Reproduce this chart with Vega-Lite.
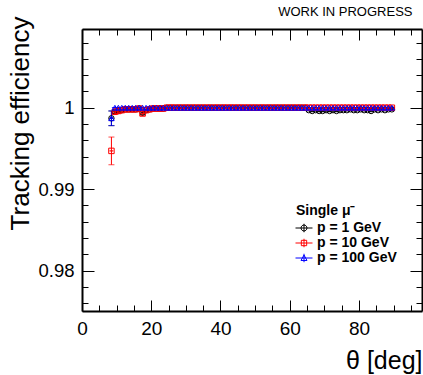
{
  "$schema": "https://vega.github.io/schema/vega-lite/v6.json",
  "autosize": {"type": "none"},
  "padding": {"left": 82, "top": 29, "right": 1, "bottom": 64},
  "width": 340,
  "height": 282,
  "background": "white",
  "title": {"text": "WORK IN PROGRESS", "anchor": "end", "fontSize": 13, "fontWeight": "normal", "font": "Liberation Sans", "color": "black", "offset": -3, "dx": -10},
  "config": {
    "font": "Liberation Sans",
    "view": {"stroke": null},
    "axis": {"grid": false, "domain": false, "labelFont": "Liberation Sans", "labelColor": "black", "titleFont": "Liberation Sans", "titleColor": "black", "titleFontWeight": "normal", "tickColor": "black", "tickWidth": 1, "labelOverlap": false, "labelFlush": false, "domainColor": "black", "domainWidth": 2}
  },
  "resolve": {"axis": {"x": "independent", "y": "independent"}},
  "data": {"values": [
    {"s":"p = 1 GeV","t":8.5,"e":0.9987,"err":0.0009},
    {"s":"p = 1 GeV","t":9.5,"e":0.9995,"err":0.0002},
    {"s":"p = 1 GeV","t":10.5,"e":0.9996,"err":0.0002},
    {"s":"p = 1 GeV","t":11.5,"e":0.9997,"err":0.0001},
    {"s":"p = 1 GeV","t":12.5,"e":0.9998,"err":0.0001},
    {"s":"p = 1 GeV","t":13.5,"e":0.9998,"err":0.0001},
    {"s":"p = 1 GeV","t":14.5,"e":0.9998,"err":0.0001},
    {"s":"p = 1 GeV","t":15.5,"e":0.9998,"err":0.0001},
    {"s":"p = 1 GeV","t":16.5,"e":0.9999,"err":0.0001},
    {"s":"p = 1 GeV","t":17.5,"e":0.9994,"err":0.0002},
    {"s":"p = 1 GeV","t":18.5,"e":0.9997,"err":0.0001},
    {"s":"p = 1 GeV","t":19.5,"e":0.9998,"err":0.0001},
    {"s":"p = 1 GeV","t":20.5,"e":0.9999,"err":0.0001},
    {"s":"p = 1 GeV","t":21.5,"e":0.9999,"err":0.0001},
    {"s":"p = 1 GeV","t":22.5,"e":0.9999,"err":0.0001},
    {"s":"p = 1 GeV","t":23.5,"e":0.9999,"err":0.0001},
    {"s":"p = 1 GeV","t":24.5,"e":1.0,"err":0},
    {"s":"p = 1 GeV","t":25.5,"e":1.0,"err":0},
    {"s":"p = 1 GeV","t":26.5,"e":1.0,"err":0},
    {"s":"p = 1 GeV","t":27.5,"e":1.0,"err":0},
    {"s":"p = 1 GeV","t":28.5,"e":1.0,"err":0},
    {"s":"p = 1 GeV","t":29.5,"e":1.0,"err":0},
    {"s":"p = 1 GeV","t":30.5,"e":1.0,"err":0},
    {"s":"p = 1 GeV","t":31.5,"e":1.0,"err":0},
    {"s":"p = 1 GeV","t":32.5,"e":1.0,"err":0},
    {"s":"p = 1 GeV","t":33.5,"e":1.0,"err":0},
    {"s":"p = 1 GeV","t":34.5,"e":1.0,"err":0},
    {"s":"p = 1 GeV","t":35.5,"e":1.0,"err":0},
    {"s":"p = 1 GeV","t":36.5,"e":1.0,"err":0},
    {"s":"p = 1 GeV","t":37.5,"e":1.0,"err":0},
    {"s":"p = 1 GeV","t":38.5,"e":1.0,"err":0},
    {"s":"p = 1 GeV","t":39.5,"e":1.0,"err":0},
    {"s":"p = 1 GeV","t":40.5,"e":1.0,"err":0},
    {"s":"p = 1 GeV","t":41.5,"e":1.0,"err":0},
    {"s":"p = 1 GeV","t":42.5,"e":1.0,"err":0},
    {"s":"p = 1 GeV","t":43.5,"e":1.0,"err":0},
    {"s":"p = 1 GeV","t":44.5,"e":1.0,"err":0},
    {"s":"p = 1 GeV","t":45.5,"e":1.0,"err":0},
    {"s":"p = 1 GeV","t":46.5,"e":1.0,"err":0},
    {"s":"p = 1 GeV","t":47.5,"e":1.0,"err":0},
    {"s":"p = 1 GeV","t":48.5,"e":1.0,"err":0},
    {"s":"p = 1 GeV","t":49.5,"e":1.0,"err":0},
    {"s":"p = 1 GeV","t":50.5,"e":1.0,"err":0},
    {"s":"p = 1 GeV","t":51.5,"e":1.0,"err":0},
    {"s":"p = 1 GeV","t":52.5,"e":1.0,"err":0},
    {"s":"p = 1 GeV","t":53.5,"e":1.0,"err":0},
    {"s":"p = 1 GeV","t":54.5,"e":1.0,"err":0},
    {"s":"p = 1 GeV","t":55.5,"e":1.0,"err":0},
    {"s":"p = 1 GeV","t":56.5,"e":1.0,"err":0},
    {"s":"p = 1 GeV","t":57.5,"e":1.0,"err":0},
    {"s":"p = 1 GeV","t":58.5,"e":1.0,"err":0},
    {"s":"p = 1 GeV","t":59.5,"e":1.0,"err":0},
    {"s":"p = 1 GeV","t":60.5,"e":1.0,"err":0},
    {"s":"p = 1 GeV","t":61.5,"e":1.0,"err":0},
    {"s":"p = 1 GeV","t":62.5,"e":1.0,"err":0},
    {"s":"p = 1 GeV","t":63.5,"e":1.0,"err":0},
    {"s":"p = 1 GeV","t":64.5,"e":1.0,"err":0},
    {"s":"p = 1 GeV","t":65.5,"e":0.9997,"err":0.0001},
    {"s":"p = 1 GeV","t":66.5,"e":0.9996,"err":0.0001},
    {"s":"p = 1 GeV","t":67.5,"e":0.9997,"err":0.0001},
    {"s":"p = 1 GeV","t":68.5,"e":0.9996,"err":0.0001},
    {"s":"p = 1 GeV","t":69.5,"e":0.9996,"err":0.0001},
    {"s":"p = 1 GeV","t":70.5,"e":0.9997,"err":0.0001},
    {"s":"p = 1 GeV","t":71.5,"e":0.9996,"err":0.0001},
    {"s":"p = 1 GeV","t":72.5,"e":0.9997,"err":0.0001},
    {"s":"p = 1 GeV","t":73.5,"e":0.9996,"err":0.0001},
    {"s":"p = 1 GeV","t":74.5,"e":0.9997,"err":0.0001},
    {"s":"p = 1 GeV","t":75.5,"e":0.9997,"err":0.0001},
    {"s":"p = 1 GeV","t":76.5,"e":0.9997,"err":0.0001},
    {"s":"p = 1 GeV","t":77.5,"e":0.9998,"err":0.0001},
    {"s":"p = 1 GeV","t":78.5,"e":0.9997,"err":0.0001},
    {"s":"p = 1 GeV","t":79.5,"e":0.9997,"err":0.0001},
    {"s":"p = 1 GeV","t":80.5,"e":0.9998,"err":0.0001},
    {"s":"p = 1 GeV","t":81.5,"e":0.9997,"err":0.0001},
    {"s":"p = 1 GeV","t":82.5,"e":0.9997,"err":0.0001},
    {"s":"p = 1 GeV","t":83.5,"e":0.9996,"err":0.0001},
    {"s":"p = 1 GeV","t":84.5,"e":0.9998,"err":0.0001},
    {"s":"p = 1 GeV","t":85.5,"e":0.9997,"err":0.0001},
    {"s":"p = 1 GeV","t":86.5,"e":0.9998,"err":0.0001},
    {"s":"p = 1 GeV","t":87.5,"e":0.9997,"err":0.0001},
    {"s":"p = 1 GeV","t":88.5,"e":0.9998,"err":0.0001},
    {"s":"p = 1 GeV","t":89.5,"e":0.9998,"err":0.0001},
    {"s":"p = 10 GeV","t":8.5,"e":0.9947,"err":0.0017},
    {"s":"p = 10 GeV","t":9.5,"e":0.9995,"err":0.0002},
    {"s":"p = 10 GeV","t":10.5,"e":0.9996,"err":0.0002},
    {"s":"p = 10 GeV","t":11.5,"e":0.9997,"err":0.0001},
    {"s":"p = 10 GeV","t":12.5,"e":0.9998,"err":0.0001},
    {"s":"p = 10 GeV","t":13.5,"e":0.9998,"err":0.0001},
    {"s":"p = 10 GeV","t":14.5,"e":0.9998,"err":0.0001},
    {"s":"p = 10 GeV","t":15.5,"e":0.9998,"err":0.0001},
    {"s":"p = 10 GeV","t":16.5,"e":0.9999,"err":0.0001},
    {"s":"p = 10 GeV","t":17.5,"e":0.9993,"err":0.0003},
    {"s":"p = 10 GeV","t":18.5,"e":0.9997,"err":0.0001},
    {"s":"p = 10 GeV","t":19.5,"e":0.9998,"err":0.0001},
    {"s":"p = 10 GeV","t":20.5,"e":0.9999,"err":0.0001},
    {"s":"p = 10 GeV","t":21.5,"e":0.9999,"err":0.0001},
    {"s":"p = 10 GeV","t":22.5,"e":0.9999,"err":0.0001},
    {"s":"p = 10 GeV","t":23.5,"e":0.9999,"err":0.0001},
    {"s":"p = 10 GeV","t":24.5,"e":1.0,"err":0},
    {"s":"p = 10 GeV","t":25.5,"e":1.0,"err":0},
    {"s":"p = 10 GeV","t":26.5,"e":1.0,"err":0},
    {"s":"p = 10 GeV","t":27.5,"e":1.0,"err":0},
    {"s":"p = 10 GeV","t":28.5,"e":1.0,"err":0},
    {"s":"p = 10 GeV","t":29.5,"e":1.0,"err":0},
    {"s":"p = 10 GeV","t":30.5,"e":1.0,"err":0},
    {"s":"p = 10 GeV","t":31.5,"e":1.0,"err":0},
    {"s":"p = 10 GeV","t":32.5,"e":1.0,"err":0},
    {"s":"p = 10 GeV","t":33.5,"e":1.0,"err":0},
    {"s":"p = 10 GeV","t":34.5,"e":1.0,"err":0},
    {"s":"p = 10 GeV","t":35.5,"e":1.0,"err":0},
    {"s":"p = 10 GeV","t":36.5,"e":1.0,"err":0},
    {"s":"p = 10 GeV","t":37.5,"e":1.0,"err":0},
    {"s":"p = 10 GeV","t":38.5,"e":1.0,"err":0},
    {"s":"p = 10 GeV","t":39.5,"e":1.0,"err":0},
    {"s":"p = 10 GeV","t":40.5,"e":1.0,"err":0},
    {"s":"p = 10 GeV","t":41.5,"e":1.0,"err":0},
    {"s":"p = 10 GeV","t":42.5,"e":1.0,"err":0},
    {"s":"p = 10 GeV","t":43.5,"e":1.0,"err":0},
    {"s":"p = 10 GeV","t":44.5,"e":1.0,"err":0},
    {"s":"p = 10 GeV","t":45.5,"e":1.0,"err":0},
    {"s":"p = 10 GeV","t":46.5,"e":1.0,"err":0},
    {"s":"p = 10 GeV","t":47.5,"e":1.0,"err":0},
    {"s":"p = 10 GeV","t":48.5,"e":1.0,"err":0},
    {"s":"p = 10 GeV","t":49.5,"e":1.0,"err":0},
    {"s":"p = 10 GeV","t":50.5,"e":1.0,"err":0},
    {"s":"p = 10 GeV","t":51.5,"e":1.0,"err":0},
    {"s":"p = 10 GeV","t":52.5,"e":1.0,"err":0},
    {"s":"p = 10 GeV","t":53.5,"e":1.0,"err":0},
    {"s":"p = 10 GeV","t":54.5,"e":1.0,"err":0},
    {"s":"p = 10 GeV","t":55.5,"e":1.0,"err":0},
    {"s":"p = 10 GeV","t":56.5,"e":1.0,"err":0},
    {"s":"p = 10 GeV","t":57.5,"e":1.0,"err":0},
    {"s":"p = 10 GeV","t":58.5,"e":1.0,"err":0},
    {"s":"p = 10 GeV","t":59.5,"e":1.0,"err":0},
    {"s":"p = 10 GeV","t":60.5,"e":1.0,"err":0},
    {"s":"p = 10 GeV","t":61.5,"e":1.0,"err":0},
    {"s":"p = 10 GeV","t":62.5,"e":1.0,"err":0},
    {"s":"p = 10 GeV","t":63.5,"e":1.0,"err":0},
    {"s":"p = 10 GeV","t":64.5,"e":1.0,"err":0},
    {"s":"p = 10 GeV","t":65.5,"e":1.0,"err":0},
    {"s":"p = 10 GeV","t":66.5,"e":1.0,"err":0},
    {"s":"p = 10 GeV","t":67.5,"e":1.0,"err":0},
    {"s":"p = 10 GeV","t":68.5,"e":1.0,"err":0},
    {"s":"p = 10 GeV","t":69.5,"e":1.0,"err":0},
    {"s":"p = 10 GeV","t":70.5,"e":1.0,"err":0},
    {"s":"p = 10 GeV","t":71.5,"e":1.0,"err":0},
    {"s":"p = 10 GeV","t":72.5,"e":1.0,"err":0},
    {"s":"p = 10 GeV","t":73.5,"e":1.0,"err":0},
    {"s":"p = 10 GeV","t":74.5,"e":1.0,"err":0},
    {"s":"p = 10 GeV","t":75.5,"e":1.0,"err":0},
    {"s":"p = 10 GeV","t":76.5,"e":1.0,"err":0},
    {"s":"p = 10 GeV","t":77.5,"e":1.0,"err":0},
    {"s":"p = 10 GeV","t":78.5,"e":1.0,"err":0},
    {"s":"p = 10 GeV","t":79.5,"e":1.0,"err":0},
    {"s":"p = 10 GeV","t":80.5,"e":1.0,"err":0},
    {"s":"p = 10 GeV","t":81.5,"e":1.0,"err":0},
    {"s":"p = 10 GeV","t":82.5,"e":1.0,"err":0},
    {"s":"p = 10 GeV","t":83.5,"e":1.0,"err":0},
    {"s":"p = 10 GeV","t":84.5,"e":1.0,"err":0},
    {"s":"p = 10 GeV","t":85.5,"e":1.0,"err":0},
    {"s":"p = 10 GeV","t":86.5,"e":1.0,"err":0},
    {"s":"p = 10 GeV","t":87.5,"e":1.0,"err":0},
    {"s":"p = 10 GeV","t":88.5,"e":1.0,"err":0},
    {"s":"p = 10 GeV","t":89.5,"e":1.0,"err":0},
    {"s":"p = 100 GeV","t":8.5,"e":0.9987,"err":0.0009},
    {"s":"p = 100 GeV","t":9.5,"e":1.0,"err":0},
    {"s":"p = 100 GeV","t":10.5,"e":1.0,"err":0},
    {"s":"p = 100 GeV","t":11.5,"e":1.0,"err":0},
    {"s":"p = 100 GeV","t":12.5,"e":1.0,"err":0},
    {"s":"p = 100 GeV","t":13.5,"e":1.0,"err":0},
    {"s":"p = 100 GeV","t":14.5,"e":1.0,"err":0},
    {"s":"p = 100 GeV","t":15.5,"e":1.0,"err":0},
    {"s":"p = 100 GeV","t":16.5,"e":1.0,"err":0},
    {"s":"p = 100 GeV","t":17.5,"e":1.0,"err":0},
    {"s":"p = 100 GeV","t":18.5,"e":1.0,"err":0},
    {"s":"p = 100 GeV","t":19.5,"e":1.0,"err":0},
    {"s":"p = 100 GeV","t":20.5,"e":1.0,"err":0},
    {"s":"p = 100 GeV","t":21.5,"e":1.0,"err":0},
    {"s":"p = 100 GeV","t":22.5,"e":1.0,"err":0},
    {"s":"p = 100 GeV","t":23.5,"e":1.0,"err":0},
    {"s":"p = 100 GeV","t":24.5,"e":1.0,"err":0},
    {"s":"p = 100 GeV","t":25.5,"e":1.0,"err":0},
    {"s":"p = 100 GeV","t":26.5,"e":1.0,"err":0},
    {"s":"p = 100 GeV","t":27.5,"e":1.0,"err":0},
    {"s":"p = 100 GeV","t":28.5,"e":1.0,"err":0},
    {"s":"p = 100 GeV","t":29.5,"e":1.0,"err":0},
    {"s":"p = 100 GeV","t":30.5,"e":1.0,"err":0},
    {"s":"p = 100 GeV","t":31.5,"e":1.0,"err":0},
    {"s":"p = 100 GeV","t":32.5,"e":1.0,"err":0},
    {"s":"p = 100 GeV","t":33.5,"e":1.0,"err":0},
    {"s":"p = 100 GeV","t":34.5,"e":1.0,"err":0},
    {"s":"p = 100 GeV","t":35.5,"e":1.0,"err":0},
    {"s":"p = 100 GeV","t":36.5,"e":1.0,"err":0},
    {"s":"p = 100 GeV","t":37.5,"e":1.0,"err":0},
    {"s":"p = 100 GeV","t":38.5,"e":1.0,"err":0},
    {"s":"p = 100 GeV","t":39.5,"e":1.0,"err":0},
    {"s":"p = 100 GeV","t":40.5,"e":1.0,"err":0},
    {"s":"p = 100 GeV","t":41.5,"e":1.0,"err":0},
    {"s":"p = 100 GeV","t":42.5,"e":1.0,"err":0},
    {"s":"p = 100 GeV","t":43.5,"e":1.0,"err":0},
    {"s":"p = 100 GeV","t":44.5,"e":1.0,"err":0},
    {"s":"p = 100 GeV","t":45.5,"e":1.0,"err":0},
    {"s":"p = 100 GeV","t":46.5,"e":1.0,"err":0},
    {"s":"p = 100 GeV","t":47.5,"e":1.0,"err":0},
    {"s":"p = 100 GeV","t":48.5,"e":1.0,"err":0},
    {"s":"p = 100 GeV","t":49.5,"e":1.0,"err":0},
    {"s":"p = 100 GeV","t":50.5,"e":1.0,"err":0},
    {"s":"p = 100 GeV","t":51.5,"e":1.0,"err":0},
    {"s":"p = 100 GeV","t":52.5,"e":1.0,"err":0},
    {"s":"p = 100 GeV","t":53.5,"e":1.0,"err":0},
    {"s":"p = 100 GeV","t":54.5,"e":1.0,"err":0},
    {"s":"p = 100 GeV","t":55.5,"e":1.0,"err":0},
    {"s":"p = 100 GeV","t":56.5,"e":1.0,"err":0},
    {"s":"p = 100 GeV","t":57.5,"e":1.0,"err":0},
    {"s":"p = 100 GeV","t":58.5,"e":1.0,"err":0},
    {"s":"p = 100 GeV","t":59.5,"e":1.0,"err":0},
    {"s":"p = 100 GeV","t":60.5,"e":1.0,"err":0},
    {"s":"p = 100 GeV","t":61.5,"e":1.0,"err":0},
    {"s":"p = 100 GeV","t":62.5,"e":1.0,"err":0},
    {"s":"p = 100 GeV","t":63.5,"e":1.0,"err":0},
    {"s":"p = 100 GeV","t":64.5,"e":1.0,"err":0},
    {"s":"p = 100 GeV","t":65.5,"e":1.0,"err":0},
    {"s":"p = 100 GeV","t":66.5,"e":1.0,"err":0},
    {"s":"p = 100 GeV","t":67.5,"e":1.0,"err":0},
    {"s":"p = 100 GeV","t":68.5,"e":1.0,"err":0},
    {"s":"p = 100 GeV","t":69.5,"e":1.0,"err":0},
    {"s":"p = 100 GeV","t":70.5,"e":1.0,"err":0},
    {"s":"p = 100 GeV","t":71.5,"e":1.0,"err":0},
    {"s":"p = 100 GeV","t":72.5,"e":1.0,"err":0},
    {"s":"p = 100 GeV","t":73.5,"e":1.0,"err":0},
    {"s":"p = 100 GeV","t":74.5,"e":1.0,"err":0},
    {"s":"p = 100 GeV","t":75.5,"e":1.0,"err":0},
    {"s":"p = 100 GeV","t":76.5,"e":1.0,"err":0},
    {"s":"p = 100 GeV","t":77.5,"e":1.0,"err":0},
    {"s":"p = 100 GeV","t":78.5,"e":1.0,"err":0},
    {"s":"p = 100 GeV","t":79.5,"e":1.0,"err":0},
    {"s":"p = 100 GeV","t":80.5,"e":1.0,"err":0},
    {"s":"p = 100 GeV","t":81.5,"e":1.0,"err":0},
    {"s":"p = 100 GeV","t":82.5,"e":1.0,"err":0},
    {"s":"p = 100 GeV","t":83.5,"e":1.0,"err":0},
    {"s":"p = 100 GeV","t":84.5,"e":1.0,"err":0},
    {"s":"p = 100 GeV","t":85.5,"e":1.0,"err":0},
    {"s":"p = 100 GeV","t":86.5,"e":1.0,"err":0},
    {"s":"p = 100 GeV","t":87.5,"e":1.0,"err":0},
    {"s":"p = 100 GeV","t":88.5,"e":1.0,"err":0},
    {"s":"p = 100 GeV","t":89.5,"e":1.0,"err":0}
  ]},
  "layer": [
    {
      "mark": {"type": "errorbar", "ticks": {"size": 6, "strokeWidth": 1}, "rule": {"strokeWidth": 1}},
      "encoding": {
        "x": {"field": "t", "type": "quantitative", "title": "θ [deg]",
          "scale": {"domain": [0, 98.2], "nice": false, "zero": false},
          "axis": {"orient": "bottom", "values": [0, 20, 40, 60, 80], "tickSize": -11, "labelPadding": 19, "labelFontSize": 19, "domain": true,
            "titleFontSize": 25, "titleAnchor": "end", "titleAlign": "right", "titleBaseline": "alphabetic", "titleY": 57}},
        "y": {"field": "e", "type": "quantitative", "title": "Tracking efficiency",
          "scale": {"domain": [0.97505, 1.00966], "nice": false, "zero": false},
          "axis": {"orient": "left", "values": [0.98, 0.99, 1.0, 1.01], "format": ".2~f", "tickSize": -12, "labelPadding": 20, "labelFontSize": 18.5, "domain": true,
            "titleFontSize": 26, "titleAnchor": "end", "titleAlign": "right", "titleBaseline": "middle", "titleX": -62, "titleY": -13}},
        "yError": {"field": "err"},
        "color": {"field": "s", "type": "nominal", "scale": {"domain": ["p = 1 GeV", "p = 10 GeV", "p = 100 GeV"], "range": ["#000000", "#ff0000", "#0000ff"]},
          "legend": {"orient": "none", "legendX": 214, "legendY": 175, "title": "Single μ⁻", "titleFontSize": 14, "titleFontWeight": "bold", "titleColor": "black", "titleFont": "Liberation Sans", "titlePadding": 2,
            "labelFontSize": 14, "labelFontWeight": "bold", "labelColor": "black", "labelFont": "Liberation Sans", "labelOffset": 5, "rowPadding": 0, "padding": 0, "symbolSize": 200, "symbolStrokeWidth": 1, "symbolFillColor": "transparent",
            "encode": {"symbols": {"update": {"shape": {"signal": "datum.value == 'p = 1 GeV' ? 'M-1.2,0H1.2M0,-0.6V0.6M-0.42,0A0.42,0.42,0,1,1,0.42,0A0.42,0.42,0,1,1,-0.42,0' : datum.value == 'p = 10 GeV' ? 'M-1.2,0H1.2M0,-0.6V0.6M-0.38,-0.38H0.38V0.38H-0.38Z' : 'M-1.2,0H1.2M0,-0.6V0.6M-0.42,0.35L0,-0.42L0.42,0.35Z'"}, "fill": {"value": "transparent"}, "fillOpacity": {"value": 0}, "strokeWidth": {"value": 1}, "size": {"value": 200}, "opacity": {"value": 1}}}}}}
      }
    },
    {
      "mark": {"type": "tick", "orient": "horizontal", "size": 3.6, "thickness": 0.1, "filled": false, "strokeWidth": 1},
      "encoding": {
        "x": {"field": "t", "type": "quantitative", "title": null,
          "axis": {"orient": "bottom", "values": [5, 10, 15, 25, 30, 35, 45, 50, 55, 65, 70, 75, 85, 90, 95], "tickSize": -6, "labels": false}},
        "y": {"field": "e", "type": "quantitative", "title": null,
          "axis": {"orient": "left", "values": [0.976, 0.978, 0.982, 0.984, 0.986, 0.988, 0.992, 0.994, 0.996, 0.998, 1.002, 1.004, 1.006, 1.008], "tickSize": -6, "labels": false}},
        "color": {"field": "s", "type": "nominal"}
      }
    },
    {
      "transform": [{"filter": "datum.s == 'p = 1 GeV'"}],
      "mark": {"type": "point", "shape": "circle", "filled": false, "size": 30, "strokeWidth": 1, "opacity": 1},
      "encoding": {
        "x": {"field": "t", "type": "quantitative", "title": null,
          "axis": {"orient": "top", "values": [0, 20, 40, 60, 80], "tickSize": -11, "labels": false, "domain": true}},
        "y": {"field": "e", "type": "quantitative", "title": null,
          "axis": {"orient": "right", "values": [0.98, 0.99, 1.0, 1.01], "tickSize": -12, "labels": false, "domain": true}},
        "color": {"field": "s", "type": "nominal"}
      }
    },
    {
      "transform": [{"filter": "datum.s == 'p = 10 GeV'"}],
      "mark": {"type": "point", "shape": "square", "filled": false, "size": 30, "strokeWidth": 1, "opacity": 1},
      "encoding": {
        "x": {"field": "t", "type": "quantitative", "axis": null},
        "y": {"field": "e", "type": "quantitative", "axis": null},
        "color": {"field": "s", "type": "nominal"}
      }
    },
    {
      "transform": [{"filter": "datum.s == 'p = 100 GeV'"}],
      "mark": {"type": "point", "shape": "triangle-up", "filled": false, "size": 30, "strokeWidth": 1, "opacity": 1},
      "encoding": {
        "x": {"field": "t", "type": "quantitative", "axis": null},
        "y": {"field": "e", "type": "quantitative", "axis": null},
        "color": {"field": "s", "type": "nominal"}
      }
    },
    {
      "mark": {"type": "point", "opacity": 0},
      "encoding": {
        "x": {"field": "t", "type": "quantitative", "title": null,
          "axis": {"orient": "top", "values": [5, 10, 15, 25, 30, 35, 45, 50, 55, 65, 70, 75, 85, 90, 95], "tickSize": -6, "labels": false}},
        "y": {"field": "e", "type": "quantitative", "title": null,
          "axis": {"orient": "right", "values": [0.976, 0.978, 0.982, 0.984, 0.986, 0.988, 0.992, 0.994, 0.996, 0.998, 1.002, 1.004, 1.006, 1.008], "tickSize": -6, "labels": false}}
      }
    }
  ]
}
